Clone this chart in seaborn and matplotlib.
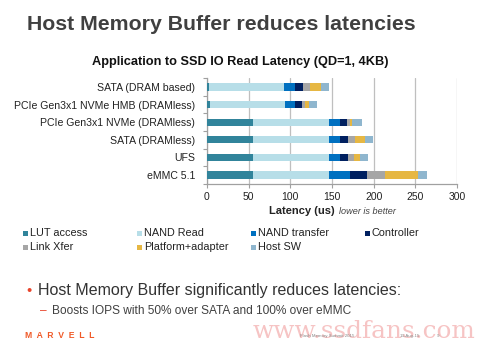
import matplotlib
matplotlib.use("Agg")
import matplotlib.pyplot as plt
from matplotlib.patches import Rectangle
import seaborn as sns
import pandas as pd
import numpy as np

categories = ["SATA (DRAM based)", "PCIe Gen3x1 NVMe HMB (DRAMless)", "PCIe Gen3x1 NVMe (DRAMless)",
              "SATA (DRAMless)", "UFS", "eMMC 5.1"]
segments = ["LUT access", "NAND Read", "NAND transfer", "Controller", "Link Xfer", "Platform+adapter", "Host SW"]
lut_access = [2, 3, 55, 55, 55, 55]
nand_read = [90, 90, 91, 91, 91, 91]
nand_transfer = [13, 13, 13, 13, 13, 25]
controller = [10, 8, 9, 10, 10, 21]
link_xfer = [9, 4, 4, 8.5, 7, 21.5]
platform_adapter = [13, 4, 2.5, 12, 7, 40]
host_sw = [9, 10, 11, 9.5, 10.5, 10]
colors = ["#31849B", "#B7DEE8", "#0070C0", "#002060", "#A6A6A6", "#E6B743", "#8FB6CE"]
xticks = [0, 50, 100, 150, 200, 250, 300]

sns.set_theme(style="white")
plt.rcParams['font.family'] = ['Liberation Sans', 'DejaVu Sans']

fig = plt.figure(figsize=(4.83, 3.45), dpi=100)
W, H = 483, 345
ax = fig.add_axes([207 / W, 1 - 183.8 / H, 250 / W, (183.8 - 78.2) / H])

vals = np.array([lut_access, nand_read, nand_transfer, controller, link_xfer, platform_adapter, host_sw])
cum = np.cumsum(vals, axis=0)
for i in range(len(segments) - 1, -1, -1):
    df = pd.DataFrame({"cat": categories, "v": cum[i]})
    sns.barplot(data=df, x="v", y="cat", orient="h", color=colors[i], width=0.4,
                saturation=1, ax=ax, zorder=3, linewidth=0, edgecolor="none")

ax.set_xlim(0, 300)
ax.set_ylim(5.5, -0.5)
ax.set_xticks(xticks)
ax.set_xticklabels([str(t) for t in xticks], fontsize=7.5, color="#222222")
ax.tick_params(axis="y", which="major", length=0, labelsize=7.55, labelcolor="#222222", pad=8.5)
ax.set_yticks(np.arange(-0.5, 6, 1), minor=True)
ax.tick_params(axis="y", which="minor", length=3, color="#A0A0A0", width=0.8, left=True)
ax.tick_params(axis="x", length=3, color="#A0A0A0", width=0.8, bottom=True, pad=3)
ax.set_xlabel("")
ax.set_ylabel("")
ax.grid(axis="x", color="#BFBFBF", linewidth=0.9, zorder=0)
ax.set_axisbelow(True)
for s in ["top", "right"]:
    ax.spines[s].set_visible(False)
for s in ["left", "bottom"]:
    ax.spines[s].set_color("#A0A0A0")
    ax.spines[s].set_linewidth(0.9)

# titles
fig.text(27 / W, 1 - 24 / H, "Host Memory Buffer reduces latencies", fontsize=15.3,
         fontweight="bold", color="#404040", va="center", ha="left")
fig.text(240.5 / W, 1 - 62 / H, "Application to SSD IO Read Latency (QD=1, 4KB)", fontsize=9.15,
         fontweight="bold", color="#111111", va="center", ha="center")

# x label
fig.text(335 / W, 1 - 211 / H, "Latency (us)", fontsize=8, fontweight="bold",
         color="#222222", ha="right", va="center")
fig.text(339 / W, 1 - 211 / H, "lower is better", fontsize=6.6, style="italic",
         color="#444444", ha="left", va="center")

# legend
leg_x = [23, 137, 251, 365]
leg_y = [233, 247]
for i, name in enumerate(segments):
    r, c = divmod(i, 4)
    x0, y0 = leg_x[c], leg_y[r]
    fig.add_artist(Rectangle((x0 / W, 1 - (y0 + 2.5) / H), 5 / W, 5 / H,
                             transform=fig.transFigure, color=colors[i], lw=0))
    fig.text((x0 + 7) / W, 1 - y0 / H, name, fontsize=7.8, color="#222222",
             ha="left", va="center")

# bullets
fig.text(26 / W, 1 - 291 / H, "•", fontsize=10.5, color="#E8452C", ha="left", va="center")
fig.text(38 / W, 1 - 290 / H, "Host Memory Buffer significantly reduces latencies:",
         fontsize=11.5, color="#333333", ha="left", va="center")
fig.text(40 / W, 1 - 311 / H, "–", fontsize=8.6, color="#E8452C", ha="left", va="center")
fig.text(52 / W, 1 - 311 / H, "Boosts IOPS with 50% over SATA and 100% over eMMC",
         fontsize=8.6, color="#404040", ha="left", va="center")

# footer
fig.text(253 / W, 1 - 332 / H, "www.ssdfans.com", fontsize=17.8, family="DejaVu Serif",
         color="#F4B0B0", alpha=0.75, ha="left", va="center", zorder=0)
fig.text(25 / W, 1 - 335 / H, "M  A  R  V  E  L  L", fontsize=6.2, fontweight="bold",
         color="#F05A28", ha="left", va="center")
fig.text(300 / W, 1 - 336 / H, "Flash Memory Summit 2015", fontsize=3.2, color="#888888",
         ha="left", va="center")
fig.text(400 / W, 1 - 336 / H, "13-Aug-15", fontsize=3.2, color="#888888", ha="left", va="center")
fig.text(437 / W, 1 - 336 / H, "9", fontsize=3.2, color="#888888", ha="left", va="center")

fig.savefig("out.png", dpi=100)
